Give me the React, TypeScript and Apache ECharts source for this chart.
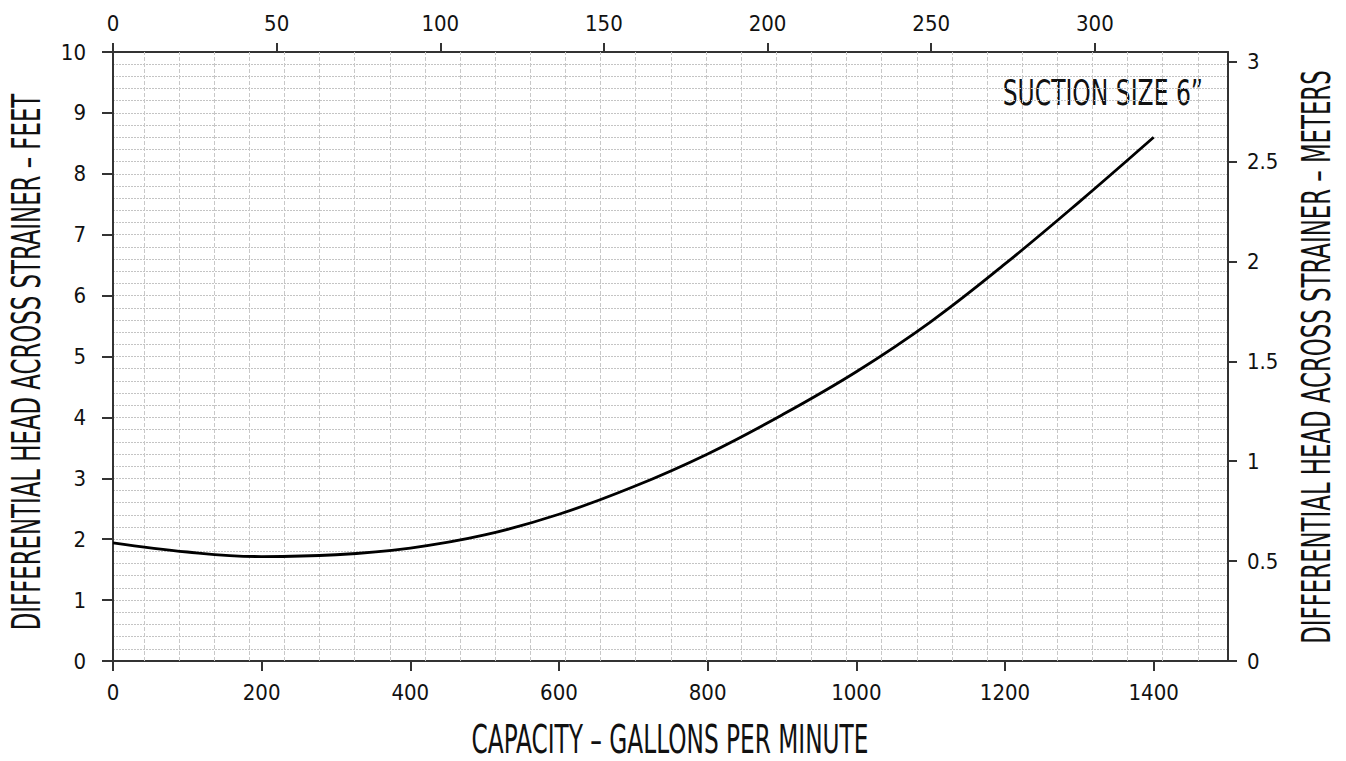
import React, { useEffect, useRef } from "react";
import * as echarts from "echarts";

// ---- data ----
const capacityGpm = [0, 100, 200, 300, 400, 500, 600, 700, 800, 900, 1000, 1100, 1200, 1300, 1400];
const headFeet = [1.94, 1.79, 1.715, 1.745, 1.855, 2.07, 2.41, 2.86, 3.4, 4.04, 4.75, 5.57, 6.52, 7.54, 8.6];

const bottomTicks = [0, 200, 400, 600, 800, 1000, 1200, 1400];
const topTicks = [0, 50, 100, 150, 200, 250, 300];
const rightTicks = [0, 0.5, 1, 1.5, 2, 2.5, 3];

const GPM_MAX = 1500;
const M3H_PER_GPM = 0.227125;
const FT_MAX = 10;
const FT_PER_M = 3.28084;

const FONT = '"DejaVu Sans Condensed", "Liberation Sans Narrow", sans-serif';

// vertical background grid (decorative, independent of the scales)
const VGRID_UNITS = 31.74;
const vGrid: number[] = [];
for (let k = 0; k <= 30; k++) vGrid.push(0.883 + k);

export default function App() {
  const ref = useRef<HTMLDivElement>(null);

  useEffect(() => {
    if (!ref.current) return;
    const chart = echarts.init(ref.current, null, { renderer: "svg" });

    const axisLine = { show: true, onZero: false, lineStyle: { color: "#333", width: 2 } };
    const label = {
      color: "#111",
      fontFamily: FONT,
      fontSize: 22,
      formatter: (v: number) => String(v),
    };
    const tickStyle = { color: "#333", width: 2 };
    const hGridStyle = { color: "#c4c4c4", width: 1, type: [2, 1] as number[] };

    chart.setOption({
      animation: false,
      backgroundColor: "#fff",
      grid: { left: 113, right: 118, top: 52, bottom: 100, containLabel: false },
      xAxis: [
        {
          type: "value",
          position: "bottom",
          min: 0,
          max: GPM_MAX,
          axisLine,
          axisTick: { show: true, length: 10, customValues: bottomTicks, lineStyle: tickStyle },
          axisLabel: { ...label, margin: 20, customValues: bottomTicks },
          splitLine: { show: false },
        },
        {
          type: "value",
          position: "top",
          min: 0,
          max: GPM_MAX * M3H_PER_GPM,
          axisLine,
          axisTick: { show: true, length: 9, customValues: topTicks, lineStyle: tickStyle },
          axisLabel: { ...label, margin: 18, customValues: topTicks },
          splitLine: { show: false },
        },
        {
          type: "value",
          show: false,
          min: 0,
          max: VGRID_UNITS,
          splitLine: { show: false },
        },
      ],
      yAxis: [
        {
          type: "value",
          position: "left",
          min: 0,
          max: FT_MAX,
          interval: 1,
          axisLine,
          axisTick: { show: true, length: 11, lineStyle: tickStyle },
          axisLabel: { ...label, margin: 27 },
          splitLine: { show: true, lineStyle: hGridStyle },
          minorTick: { show: false, splitNumber: 5 },
          minorSplitLine: { show: true, lineStyle: hGridStyle },
        },
        {
          type: "value",
          position: "right",
          min: 0,
          max: FT_MAX / FT_PER_M,
          axisLine,
          axisTick: { show: true, length: 9, customValues: rightTicks, lineStyle: tickStyle },
          axisLabel: { ...label, margin: 19, customValues: rightTicks },
          splitLine: { show: false },
        },
      ],
      series: [
        {
          type: "line",
          xAxisIndex: 2,
          yAxisIndex: 0,
          data: [],
          silent: true,
          z: 1,
          markLine: {
            silent: true,
            symbol: "none",
            animation: false,
            label: { show: false },
            lineStyle: { color: "#c8c8c8", width: 1, type: [4, 2] },
            data: vGrid.map((v) => ({ xAxis: v })),
          },
        },
        {
          type: "line",
          xAxisIndex: 0,
          yAxisIndex: 0,
          data: capacityGpm.map((g, i) => [g, headFeet[i]]),
          smooth: 0.4,
          showSymbol: false,
          symbol: "none",
          z: 5,
          lineStyle: { color: "#000", width: 2.8 },
        },
      ],
      graphic: [
        {
          type: "text",
          x: 670,
          y: 739,
          scaleX: 0.923,
          scaleY: 1.4,
          style: {
            text: "CAPACITY \u2013 GALLONS PER MINUTE",
            fontFamily: FONT,
            fontSize: 28,
            fill: "#111",
            textAlign: "center",
            textVerticalAlign: "middle",
          },
        },
        {
          type: "text",
          x: 27,
          y: 362,
          rotation: Math.PI / 2,
          scaleX: 0.923,
          scaleY: 1.4,
          style: {
            text: "DIFFERENTIAL HEAD ACROSS STRAINER \u2013 FEET",
            fontFamily: FONT,
            fontSize: 27.5,
            fill: "#111",
            textAlign: "center",
            textVerticalAlign: "middle",
          },
        },
        {
          type: "text",
          x: 1317,
          y: 357,
          rotation: Math.PI / 2,
          scaleX: 0.923,
          scaleY: 1.4,
          style: {
            text: "DIFFERENTIAL HEAD ACROSS STRAINER \u2013 METERS",
            fontFamily: FONT,
            fontSize: 27.5,
            fill: "#111",
            textAlign: "center",
            textVerticalAlign: "middle",
          },
        },
        {
          type: "text",
          x: 1203,
          y: 92.5,
          scaleX: 0.887,
          scaleY: 1.19,
          style: {
            text: "SUCTION SIZE 6\u201D",
            fontFamily: FONT,
            fontSize: 29.4,
            fill: "#111",
            textAlign: "right",
            textVerticalAlign: "middle",
          },
        },
      ],
    });

    return () => chart.dispose();
  }, []);

  return (
    <div
      ref={ref}
      style={{ position: "fixed", left: 0, top: 0, width: 1346, height: 761, background: "#fff" }}
    />
  );
}
